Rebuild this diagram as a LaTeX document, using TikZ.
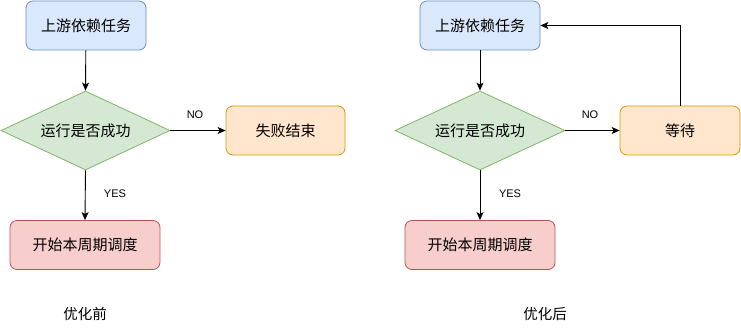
\documentclass[tikz,border=0pt]{standalone}
\usepackage{fontspec}
\setmainfont{Liberation Sans}
\newfontfamily\cjk{Noto Sans CJK SC}
\usetikzlibrary{shapes.geometric,arrows.meta}
\definecolor{bluef}{HTML}{DAE8FC}\definecolor{blued}{HTML}{6C8EBF}
\definecolor{greenf}{HTML}{D5E8D4}\definecolor{greend}{HTML}{82B366}
\definecolor{orangef}{HTML}{FFE6CC}\definecolor{oranged}{HTML}{D79B00}
\definecolor{redf}{HTML}{F8CECC}\definecolor{redd}{HTML}{B85450}
\tikzset{
  box/.style={rectangle,rounded corners=7pt,minimum width=#1,minimum height=49pt,inner sep=0pt,font=\cjk\fontsize{15pt}{17pt}\selectfont,line width=0.8pt},
  bluebox/.style={box=120pt,draw=blued,fill=bluef},
  redbox/.style={box=150pt,draw=redd,fill=redf},
  orangebox/.style={box=#1,draw=oranged,fill=orangef},
  decision/.style={diamond,aspect=2.15,minimum width=170pt,minimum height=79pt,inner sep=0pt,draw=greend,fill=greenf,line width=0.8pt,font=\cjk\fontsize{15pt}{17pt}\selectfont},
  conn/.style={draw=black,line width=0.9pt,-{Stealth[length=8pt,width=7pt,inset=2pt]}},
  lbl/.style={font=\fontsize{11pt}{13pt}\selectfont,inner sep=0pt},
  captext/.style={font=\cjk\fontsize{14.5pt}{16pt}\selectfont,inner sep=0pt}
}
\begin{document}
\begin{tikzpicture}[x=1pt,y=-1pt]
\useasboundingbox (0,0) rectangle (741,331);
% left
\node[bluebox] (la) at (86,25.5) {上游依赖任务};
\node[decision,minimum width=169pt] (ld) at (85.5,130.5) {运行是否成功};
\node[orangebox=119pt] (lf) at (285.5,130.5) {失败结束};
\node[redbox] (ls) at (85,245) {开始本周期调度};
\draw[conn] (la) -- (ld.north);
\draw[conn] (ld.east) -- (lf.west);
\draw[conn] (ld.south) -- (ls.north);
\node[lbl] (lno) at (195,115) {NO};
\node[lbl] (lyes) at (115,194) {YES};
\node[captext] (lcap) at (85,314) {优化前};
% right
\node[bluebox] (ra) at (480,25.5) {上游依赖任务};
\node[decision] (rd) at (480,130.5) {运行是否成功};
\node[orangebox=120pt] (rw) at (680,130.5) {等待};
\node[redbox] (rs) at (480,245) {开始本周期调度};
\draw[conn] (ra) -- (rd.north);
\draw[conn] (rd.east) -- (rw.west);
\draw[conn] (rd.south) -- (rs.north);
\draw[conn] (rw.north) |- (ra.east);
\node[lbl] (rno) at (590,115) {NO};
\node[lbl] (ryes) at (510,194) {YES};
\node[captext] (rcap) at (545,314) {优化后};
\end{tikzpicture}
\end{document}
